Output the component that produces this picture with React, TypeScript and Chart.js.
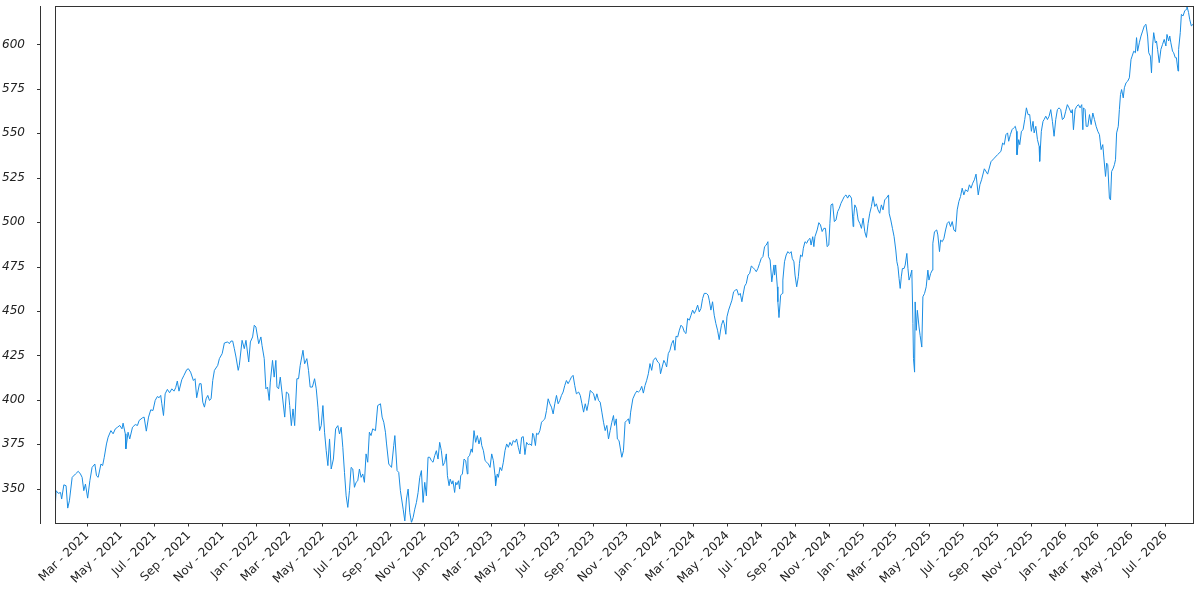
import React, { useEffect, useRef } from "react";
import { Chart, registerables } from "chart.js";

Chart.register(...registerables);

// Days since 2021-01-01 for each observation
const DAYS = [
  1,3,7,11,13,17,21,24,27,32,38,43,47,50,53,56,60,64,68,73,76,79,84,87,90,94,97,102,106,110,
  114,118,122,124,128,129,133,136,141,146,150,153,159,162,166,170,174,178,182,186,189,192,194,197,200,204,208,212,216,219,
  222,225,230,234,239,242,246,251,254,257,262,265,268,271,274,277,280,283,286,289,295,298,303,307,313,316,319,322,325,328,332,
  334,339,343,346,351,354,358,361,364,369,373,375,379,382,385,388,390,394,397,400,402,405,408,411,416,419,423,425,428,431,
  434,438,441,444,449,452,456,459,462,466,470,473,476,479,482,485,488,491,494,497,500,504,508,512,515,518,521,524,527,530,
  533,536,539,542,545,548,551,554,557,560,563,566,569,572,575,580,584,589,592,595,598,600,604,609,613,615,619,622,625,630,
  633,636,639,642,645,648,651,654,657,660,663,666,669,672,675,
  678,681,684,687,690,693,696,699,702,705,708,710,713,715,718,720,723,725,727,730,732,734,737,740,743,746,747,750,753,755,
  758,761,764,767,770,772,775,778,781,784,787,790,793,796,797,800,802,805,808,811,814,817,820,823,826,829,832,835,838,841,
  844,847,850,853,856,859,862,864,866,869,871,874,877,880,883,886,889,892,895,898,901,904,907,910,913,916,919,922,925,928,
  931,934,937,940,943,947,950,953,956,959,962,965,968,971,974,977,980,983,986,989,992,995,998,1001,1004,1007,1010,1012,1015,1017,1020,
  1025,1028,1031,1034,1037,1039,1041,1045,1049,1052,1055,1058,1061,1064,1067,1070,1073,1076,1079,1082,
  1086,1090,1093,1095,1098,1101,1104,1106,1109,1112,1115,1118,1121,1123,1126,1129,1132,1135,1138,1141,
  1144,1147,1150,1153,1156,1159,1162,1165,1168,1171,1174,1178,1181,1183,1186,1189,1192,1195,1198,1201,
  1203,1205,1208,1210,1213,1215,1218,1221,1224,1227,1230,1233,1236,1239,1242,1244,1247,1250,1253,1256,
  1259,1262,1265,1268,1271,1274,1277,1280,1283,1286,1289,1290,1293,1296,1300,1301,1303,1306,1307,1309,
  1312,1315,1316,1319,1322,1325,1328,1331,1333,1336,1338,1341,1344,1346,1348,1351,1353,1356,1359,1362,
  1365,1367,1370,1372,1374,1378,
  1381,1384,1387,1390,1393,1396,1399,1401,1403,1406,1409,1412,1415,1418,1421,1424,1427,1430,1433,1436,
  1440,1443,1444,1446,1449,1452,1455,1458,1461,1464,1467,1470,1473,1476,1479,1482,1485,1488,1491,1494,
  1497,1500,1503,1507,1508,1511,1514,1517,1520,1522,1524,1526,1528,1530,1532,1535,1537,1540,1542,1544,
  1546,1549,1551,1552,1554,1555,1557,1559,1562,1564,1567,1569,1572,1575,1578,1580,1583,1586,1587,1590,
  1594,1596,1599,1601,1604,1607,1610,1613,1616,1619,1622,1625,1628,1631,1634,1637,1640,1643,1646,1650,
  1653,1656,1659,1662,1665,1669,1672,1675,1680,1686,1692,1698,1704,
  1710,1713,1716,1719,1722,1724,1727,1730,1733,1736,1738,1739,1742,1744,1747,1750,1753,1756,1759,1762,
  1765,1768,1770,1773,1776,1779,1780,1783,1786,1788,1791,1794,1797,1800,1803,1806,1809,1812,1815,1818,
  1821,1824,1827,1830,1833,1837,1839,1841,1844,1847,1850,1853,1856,1858,1859,1862,1864,1867,1870,1873,
  1876,1879,1882,1885,1888,1891,1894,1896,1899,1901,1903,1906,1908,1910,1913,1915,1917,1919,1922,1924,
  1926,1928,1931,1933,1936,1939,1942,1945,1947,1950,1953,1955,1957,1960,1963,1966,1969,1972,1975,1977,
  1980,1982,1984,1986,1989,1991,1993,1996,1999,2002,2005,2008,2010,2013,2015,2017,2020,2022,2025,2027,
  2030,2031,2034,2036,2039,2042,2045,2046,2049,2051,2054,2057,
];

// Price at each observation
const PRICES = [
  337.6,348.9,347.4,347.9,344.2,352.2,351.7,339.1,343.2,356.4,358.3,359.8,358.3,356.4,348.9,352.6,344.7,354.5,362.0,363.9,
  357.3,356.4,363.9,363.0,367.7,375.2,379.0,382.7,380.9,383.7,384.6,385.6,383.7,386.9,380.9,372.4,381.8,378.0,384.6,386.1,
  385.6,388.4,389.9,390.3,382.4,390.3,394.4,394.0,399.7,401.9,401.2,402.5,397.8,391.2,403.4,405.9,404.0,406.2,404.9,406.8,
  410.6,404.9,411.3,413.8,417.0,417.5,415.6,410.9,411.9,401.2,409.1,409.1,398.7,395.9,400.6,402.5,399.7,400.6,410.9,416.6,
  419.4,423.2,426.0,432.0,432.6,431.6,433.1,433.1,428.8,424.1,416.6,
  419.4,433.5,428.8,433.5,421.3,432.6,435.4,442.0,441.0,431.6,435.4,430.7,423.2,406.2,407.2,399.7,410.0,422.2,412.8,422.2,
  407.2,406.2,412.8,404.4,390.3,404.4,403.4,396.8,385.5,394.9,385.5,411.9,411.9,419.4,427.9,420.3,423.2,416.6,407.2,407.2,
  411.9,406.2,395.9,382.7,385.6,396.8,381.8,371.4,363.0,378.0,361.1,366.7,383.7,385.5,380.8,384.6,373.3,359.2,346.0,339.5,
  348.9,362.0,361.1,350.8,353.6,354.5,361.1,356.4,358.3,353.6,369.6,364.9,381.8,379.9,383.7,382.7,396.8,397.8,390.3,387.4,
  381.8,375.2,363.9,362.0,374.3,379.9,360.2,359.2,348.9,338.5,331.9,344.2,349.8,336.6,331.0,333.8,338.5,342.3,347.9,356.4,
  360.2,342.3,353.6,346.0,367.7,
  367.7,365.8,364.9,368.6,371.4,366.7,376.1,371.4,363.0,364.8,369.6,357.3,351.7,355.4,352.6,354.5,347.9,353.6,352.2,354.5,
  349.8,357.3,358.3,366.7,365.8,358.3,367.7,368.6,372.4,370.5,382.7,376.1,379.9,375.2,378.9,374.3,371.4,365.8,364.9,363.9,
  362.0,369.6,365.8,357.3,351.7,358.3,356.4,362.0,360.2,364.9,371.4,375.2,373.3,376.1,374.3,377.1,376.1,378.0,373.3,369.6,
  378.9,379.3,369.2,376.1,374.8,375.2,374.3,381.2,379.9,374.3,381.2,380.5,382.7,387.4,388.4,389.3,394.0,400.6,397.8,395.9,
  392.1,397.8,402.5,397.8,399.7,402.5,404.4,408.1,410.9,409.1,410.9,412.8,413.8,408.1,403.4,404.4,402.5,397.8,393.1,397.8,
  394.0,398.7,405.3,404.4,403.4,399.7,403.4,399.7,398.7,393.1,387.4,382.7,385.6,378.0,382.7,387.4,391.2,385.6,389.3,378.0,
  377.1,
  367.7,371.4,387.4,388.4,389.3,386.5,393.1,400.6,403.4,404.9,404.4,405.3,407.6,403.8,408.1,411.0,414.7,420.4,416.6,422.2,
  423.7,421.3,420.4,414.7,418.5,422.2,420.4,418.5,426.0,427.9,431.6,433.5,427.9,435.8,435.4,439.2,442.0,441.0,438.2,437.3,
  445.8,444.8,447.6,450.5,448.6,450.5,453.3,449.5,451.4,457.0,459.9,459.9,458.9,456.1,450.5,455.2,447.6,442.9,439.2,433.9,
  438.2,442.0,444.8,442.9,436.9,446.7,450.5,453.3,456.1,460.8,461.7,462.1,458.9,459.9,455.2,458.9,464.0,465.5,470.2,471.1,
  475.3,474.5,473.4,472.1,474.0,476.8,479.6,480.6,486.2,487.1,489.0,480.6,478.7,466.4,475.9,470.2,475.9,463.6,455.2,446.3,
  458.9,459.9,467.4,477.7,481.5,483.4,482.4,483.4,479.6,477.7,470.2,463.6,469.3,476.8,481.5,480.6,485.3,489.0,488.1,490.0,
  490.9,487.1,491.8,486.2,491.8,495.6,
  499.7,498.4,494.7,496.5,496.5,486.2,487.1,499.3,509.7,510.3,500.3,501.2,505.9,507.8,510.6,512.5,514.4,515.3,513.5,515.3,
  513.5,497.5,503.1,509.7,507.8,501.2,499.3,496.5,502.2,494.6,491.4,499.3,505.0,508.8,514.4,508.8,510.3,506.9,505.0,509.7,
  506.9,512.5,513.5,515.3,505.0,501.2,496.5,491.8,484.3,477.7,474.9,468.3,462.7,469.2,473.9,473.9,475.8,482.4,473.9,467.4,
  469.2,473.0,442.9,423.2,415.6,455.1,439.1,450.4,441.0,436.3,429.7,458.0,459.9,463.6,473.0,467.4,471.1,473.0,488.1,494.6,
  495.6,492.8,483.4,489.9,489.0,490.9,495.6,499.3,500.3,497.5,500.3,495.6,494.6,506.9,511.6,514.4,519.1,515.3,518.2,517.2,
  521.0,519.1,521.9,523.8,527.0,515.3,521.0,523.8,530.0,527.0,534.0,536.0,538.0,
  539.8,544.5,543.6,549.2,550.2,545.5,549.2,552.0,553.0,553.9,551.1,537.9,546.4,543.6,551.1,552.0,557.7,564.3,560.5,560.5,
  551.1,556.7,550.2,553.9,546.4,542.6,534.2,551.1,556.7,557.7,559.6,557.7,559.6,563.3,556.7,548.3,557.7,563.3,564.3,563.3,
  557.7,558.6,562.4,566.1,564.3,561.4,563.3,552.0,563.3,565.2,566.1,564.3,566.1,552.0,564.3,563.3,553.9,553.9,560.5,554.9,
  561.4,557.7,553.9,551.1,549.2,540.8,543.6,536.1,525.7,533.2,532.3,513.5,512.5,528.5,530.4,532.3,535.1,550.2,553.9,563.3,
  571.8,574.6,569.9,575.6,578.4,579.3,581.2,591.5,593.4,596.2,595.3,603.8,596.2,600.9,604.7,607.5,610.4,611.3,604.7,595.3,
  593.4,584.0,599.1,606.6,600.9,601.9,597.2,589.7,597.2,600.0,602.8,599.1,605.6,601.9,604.7,600.9,596.2,595.3,592.5,592.5,
  585.0,597.2,606.6,616.9,616.0,618.8,619.8,621.6,617.9,614.1,610.4,611.3,
];

const Y_TICKS = [350, 375, 400, 425, 450, 475, 500, 525, 550, 575, 600];
const MONTH_NAMES = ["Jan", "Feb", "Mar", "Apr", "May", "Jun", "Jul", "Aug", "Sep", "Oct", "Nov", "Dec"];
const TICK_YEARS = [2021, 2022, 2023, 2024, 2025, 2026];
const TICK_MONTHS = [0, 2, 4, 6, 8, 10];

const BASE = Date.UTC(2021, 0, 1);
const DAY_MS = 86400000;

const X_TICK_DAYS: number[] = [];
TICK_YEARS.forEach((y) =>
  TICK_MONTHS.forEach((m) => X_TICK_DAYS.push(Math.round((Date.UTC(y, m, 1) - BASE) / DAY_MS)))
);

function monthLabel(day: number): string {
  const d = new Date(BASE + day * DAY_MS);
  return `${MONTH_NAMES[d.getUTCMonth()]} - ${d.getUTCFullYear()}`;
}

const framePlugin = {
  id: "frame",
  afterDatasetsDraw(chart: any) {
    const { ctx, chartArea: a, scales } = chart;
    ctx.save();
    ctx.strokeStyle = "#333";
    ctx.lineWidth = 1;
    ctx.strokeRect(Math.round(a.left) + 0.5, Math.round(a.top) + 0.5, Math.round(a.right - a.left), Math.round(a.bottom - a.top));
    const sx = Math.round(a.left - 15) + 0.5;
    ctx.beginPath();
    ctx.moveTo(sx, Math.round(a.top));
    ctx.lineTo(sx, Math.round(a.bottom) + 1);
    scales.y.ticks.forEach((t: any) => {
      const py = Math.round(scales.y.getPixelForValue(t.value)) + 0.5;
      ctx.moveTo(sx - 3.5, py);
      ctx.lineTo(sx, py);
    });
    ctx.stroke();
    ctx.restore();
  },
};

export default function App() {
  const canvasRef = useRef<HTMLCanvasElement | null>(null);

  useEffect(() => {
    document.body.style.margin = "0";
    const canvas = canvasRef.current;
    if (!canvas) return;
    const n = Math.min(DAYS.length, PRICES.length);
    const points = [];
    for (let i = 0; i < n; i++) points.push({ x: DAYS[i], y: PRICES[i] });

    const chart = new Chart(canvas, {
      type: "line",
      data: {
        datasets: [
          {
            data: points,
            borderColor: "#1a8de3",
            borderWidth: 1,
            pointRadius: 0,
            tension: 0,
            fill: false,
          },
        ],
      },
      options: {
        animation: false,
        responsive: true,
        maintainAspectRatio: false,
        layout: { padding: { top: 6, right: 7, bottom: 0, left: 0 } },
        plugins: { legend: { display: false }, tooltip: { enabled: false } },
        scales: {
          x: {
            type: "linear",
            min: DAYS[0],
            max: DAYS[n - 1],
            afterBuildTicks: (s: any) => {
              s.ticks = X_TICK_DAYS.filter((d) => d >= s.min && d <= s.max).map((v) => ({ value: v }));
            },
            afterFit: (s: any) => {
              s.height = 77.5;
              s.paddingLeft = 0;
              s.paddingRight = 0;
            },
            ticks: {
              autoSkip: false,
              minRotation: 45,
              maxRotation: 45,
              padding: 2,
              color: "#222",
              font: { family: "DejaVu Sans", size: 12 },
              callback: (v: any) => monthLabel(Number(v)),
            },
            grid: { display: true, drawOnChartArea: false, drawTicks: true, tickLength: 4, color: "#333" },
            border: { display: false },
          },
          y: {
            type: "linear",
            min: Math.min(...PRICES),
            max: Math.max(...PRICES),
            afterBuildTicks: (s: any) => {
              s.ticks = Y_TICKS.map((v) => ({ value: v }));
            },
            afterFit: (s: any) => {
              s.width = 55;
              s.paddingTop = 0;
              s.paddingBottom = 0;
            },
            ticks: {
              padding: 22,
              color: "#222",
              font: { family: "DejaVu Sans", size: 12, style: "italic" },
              callback: (v: any) => String(v),
            },
            grid: { display: false },
            border: { display: false },
          },
        },
      },
      plugins: [framePlugin],
    });
    return () => chart.destroy();
  }, []);

  return (
    <div style={{ width: 1200, height: 600, position: "relative" }}>
      <canvas ref={canvasRef} />
    </div>
  );
}
